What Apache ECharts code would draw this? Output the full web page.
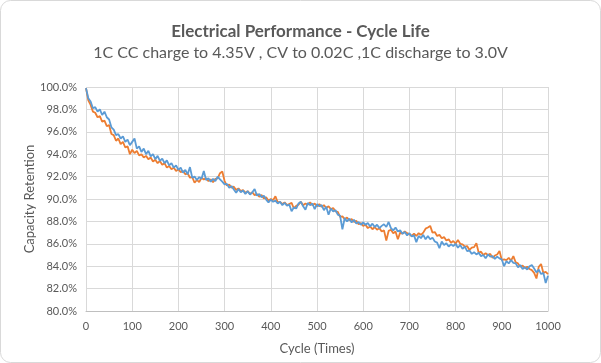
<!DOCTYPE html>
<html>
<head>
<meta charset="utf-8">
<script src="https://cdn.jsdelivr.net/npm/echarts@6/dist/echarts.min.js"></script>
<style>
html,body{margin:0;padding:0;background:#fff;}
#c{width:601px;height:363px;}
</style>
</head>
<body>
<div id="c"></div>
<script>
// Cycle step between readings (cycles 0,5,10,...,1000)
const cycleStep = 5;
const xTicks = [0,100,200,300,400,500,600,700,800,900,1000];
const yTicks = [80,82,84,86,88,90,92,94,96,98,100];

const blueValues = [
99.9,99.0,98.7,98.1,98.2,97.8,98.0,97.5,97.8,97.3,
97.1,96.4,96.2,95.7,95.8,95.4,95.6,95.1,95.3,94.8,
95.1,95.4,94.5,94.7,94.2,94.5,94.0,94.3,93.8,94.0,
93.55,93.85,93.4,93.6,93.2,93.45,93.0,93.2,92.8,93.0,
92.6,92.8,92.35,92.6,92.2,92.85,91.9,92.0,91.7,91.95,
91.8,92.5,91.7,91.85,91.55,91.8,91.6,92.0,91.75,91.55,
91.3,91.35,91.0,91.15,90.85,90.55,90.9,90.6,90.75,90.45,
90.7,90.4,90.6,90.9,90.3,90.45,90.15,90.3,89.95,89.7,
89.95,89.75,89.85,89.6,89.75,89.45,89.65,89.4,89.5,88.9,
89.25,89.15,89.6,89.75,89.35,89.05,89.65,89.45,89.6,89.1,
89.55,89.35,89.45,89.0,89.3,88.6,89.15,88.9,89.0,88.6,
88.5,87.3,88.3,88.0,88.25,87.9,88.15,87.8,87.95,87.7,
87.9,87.7,87.85,87.55,87.8,87.5,87.7,87.4,87.6,87.75,
87.5,87.95,87.4,87.2,87.45,87.1,87.2,86.9,87.05,86.75,
86.95,86.65,86.75,86.15,86.7,86.5,86.8,86.4,86.7,86.4,
86.55,86.2,86.1,85.6,86.2,85.9,86.05,85.75,85.95,85.8,
86.0,85.65,85.9,85.55,85.75,85.35,85.4,85.1,85.25,85.05,
85.2,84.9,85.0,84.7,85.05,84.85,84.9,84.65,84.85,84.7,
84.6,84.0,84.45,84.25,84.55,84.3,84.25,83.9,84.1,83.75,
83.9,83.7,84.0,84.1,83.8,83.45,83.7,83.3,83.4,82.5,
83.15
];

const orangeValues = [
99.9,98.8,98.4,97.8,97.7,97.3,97.4,96.9,97.0,96.5,
96.6,95.8,95.7,95.2,95.4,94.9,95.1,94.6,94.7,94.0,
94.4,94.1,94.3,93.9,94.0,93.7,93.85,93.55,93.7,93.35,
93.5,93.2,93.4,93.05,93.2,92.8,92.95,92.65,92.8,92.5,
92.65,92.4,92.5,92.2,92.3,91.9,91.95,91.45,91.7,91.5,
91.9,91.75,91.85,91.6,91.75,91.5,91.8,91.85,92.3,92.45,
91.6,91.2,91.3,91.0,91.1,90.8,90.95,90.7,90.8,90.55,
90.7,90.45,90.6,90.35,90.45,90.2,90.35,90.05,90.15,89.85,
90.0,89.9,90.25,89.7,89.75,89.55,89.7,89.45,89.55,89.65,
89.15,89.4,89.5,89.75,89.45,89.6,89.5,89.7,89.45,89.6,
89.35,89.55,89.3,89.45,89.2,89.35,89.1,89.2,88.9,88.85,
88.4,88.45,88.2,88.35,88.1,88.2,87.95,88.05,87.75,87.85,
87.6,87.7,87.4,87.55,87.3,87.5,87.25,87.4,87.1,87.2,
86.3,87.15,87.25,86.95,87.1,86.4,87.0,86.9,87.1,86.95,
86.85,86.7,86.9,86.7,86.95,86.8,87.0,87.35,87.45,87.6,
87.0,87.05,86.7,86.8,86.5,86.6,86.3,86.4,86.1,86.25,
86.0,86.35,86.0,85.95,85.75,85.8,85.45,85.65,85.7,86.05,
85.2,85.3,85.0,85.15,85.0,85.1,84.75,84.95,85.05,85.35,
84.55,84.6,84.55,84.75,84.5,84.9,84.35,84.25,83.95,84.05,
83.85,83.95,83.75,83.65,83.4,82.9,83.95,84.2,83.4,83.5,
83.3
];

const toPairs = vals => vals.map((v, i) => [i * cycleStep, v]);

const font = 'Lato, "Open Sans", sans-serif';
const chart = echarts.init(document.getElementById('c'), null, {renderer: 'canvas'});
chart.setOption({
  animation: false,
  backgroundColor: '#ffffff',
  title: [
    {text: 'Electrical Performance - Cycle Life', left: 'center', top: 18,
     textStyle: {fontFamily: font, fontSize: 17, fontWeight: 'bold', color: '#595959'}},
    {text: '1C CC charge to 4.35V , CV to 0.02C ,1C discharge to 3.0V', left: 'center', top: 40,
     textStyle: {fontFamily: font, fontSize: 16, fontWeight: 'normal', color: '#595959'}}
  ],
  graphic: [{
    type: 'rect', silent: true,
    shape: {x: 0.5, y: 0.5, width: 600, height: 362, r: 10},
    style: {fill: 'none', stroke: '#d9d9d9', lineWidth: 1}
  }],
  grid: {left: 86, right: 53, top: 87, bottom: 52, containLabel: false},
  xAxis: {
    type: 'value', min: xTicks[0], max: xTicks[xTicks.length - 1], interval: 100,
    name: 'Cycle (Times)', nameLocation: 'middle', nameGap: 31, nameMoveOverlap: false,
    nameTextStyle: {fontFamily: font, fontSize: 13, color: '#595959'},
    axisLine: {show: true, lineStyle: {color: '#bfbfbf', width: 1}},
    axisTick: {show: false},
    axisLabel: {fontFamily: font, fontSize: 11, color: '#595959', margin: 10,
      formatter: v => String(v)},
    splitLine: {show: true, lineStyle: {color: '#d9d9d9', width: 1}}
  },
  yAxis: {
    type: 'value', min: yTicks[0], max: yTicks[yTicks.length - 1], interval: 2,
    name: 'Capacity Retention', nameLocation: 'middle', nameGap: 50, nameMoveOverlap: false,
    nameTextStyle: {fontFamily: font, fontSize: 13, color: '#595959'},
    axisLine: {show: false},
    axisTick: {show: false},
    axisLabel: {fontFamily: font, fontSize: 11, color: '#595959', margin: 9,
      formatter: v => v.toFixed(1) + '%'},
    splitLine: {show: true, lineStyle: {color: '#d9d9d9', width: 1}}
  },
  series: [
    {type: 'line', name: 'B', data: toPairs(orangeValues), showSymbol: false,
     lineStyle: {color: '#ED7D31', width: 1.8}, itemStyle: {color: '#ED7D31'}},
    {type: 'line', name: 'A', data: toPairs(blueValues), showSymbol: false,
     lineStyle: {color: '#5B9BD5', width: 1.8}, itemStyle: {color: '#5B9BD5'}}
  ]
});
</script>
</body>
</html>
